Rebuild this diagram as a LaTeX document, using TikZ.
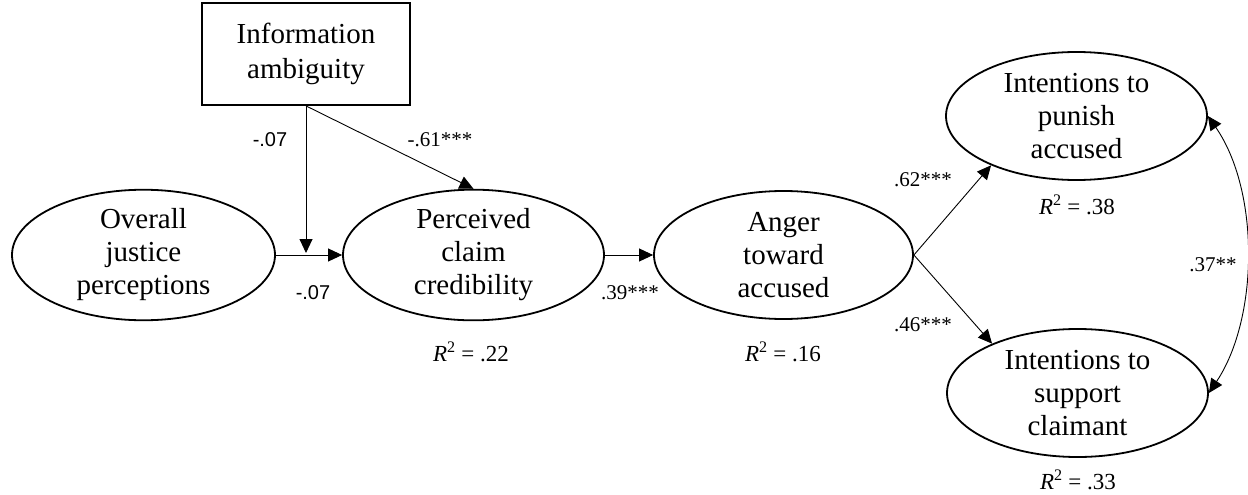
\documentclass[tikz,border=0pt]{standalone}
\usepackage{fontspec}
\setmainfont{Liberation Serif}
\newfontfamily\arialf{Liberation Sans}
\usetikzlibrary{shapes.geometric,arrows.meta}
\tikzset{
  latent/.style={ellipse, draw, line width=1.8pt, minimum width=261pt, minimum height=128pt,
    inner sep=0pt, align=center, font=\fontsize{29}{33}\selectfont},
  observed/.style={rectangle, draw, line width=1.8pt, minimum width=208pt, minimum height=102pt,
    inner sep=0pt, align=center, font=\fontsize{29}{35}\selectfont},
  path/.style={line width=0.9pt, -{Triangle[length=14pt,width=13pt]}},
  covpath/.style={line width=0.9pt, {Triangle[length=14pt,width=13pt]}-{Triangle[length=14pt,width=13pt]}},
  coef/.style={inner sep=0pt, font=\fontsize{21}{24}\selectfont},
  coefsans/.style={inner sep=0pt, font=\arialf\fontsize{20}{24}\selectfont},
  rsq/.style={inner sep=0pt, font=\fontsize{23}{26}\selectfont},
}
\begin{document}
\begin{tikzpicture}[x=1pt,y=-1pt]
\useasboundingbox (0,0) rectangle (1248,495);

% constructs
\node[observed] (amb) at (306,54) {Information\\ambiguity};
\node[latent, minimum width=263pt, minimum height=129pt] (just) at (143.5,255) {Overall\\justice\\perceptions};
\node[latent, minimum height=129pt] (cred) at (473.5,255) {Perceived\\claim\\credibility};
\node[latent, minimum width=259pt] (anger) at (783.5,255) {Anger\\toward\\accused};
\node[latent] (pun) at (1076.5,116) {Intentions to\\punish\\accused};
\node[latent] (sup) at (1077.5,393) {Intentions to\\support\\claimant};

% moderation point on the justice -> credibility path
\coordinate (mod) at (306,253);

% paths
\draw[path] (amb.south) -- (mod);
\draw[path] (amb.south) -- (cred.north);
\draw[path] (just.east) -- (cred.west);
\draw[path] (cred.east) -- (anger.west);
\draw[path] (anger.east) -- (pun.210);
\draw[path] (anger.east) -- (sup.150);
\draw[covpath] (pun.east) .. controls +(52,75) and +(50,-75) .. (sup.east);

% coefficients
\node[coefsans] (c1) at (270,140) {-.07};
\node[coef] (c2) at (440,140) {-.61***};
\node[coefsans] (c3) at (313,293) {-.07};
\node[coef] (c4) at (630,293) {.39***};
\node[coef] (c5) at (923,180) {.62***};
\node[coef] (c6) at (923,325) {.46***};
\node[coef] (c7) at (1213,265) {.37**};

% explained variance
\node[rsq] (r1) at (471,352) {\textit{R}\textsuperscript{2} = .22};
\node[rsq] (r2) at (783,352) {\textit{R}\textsuperscript{2} = .16};
\node[rsq] (r3) at (1077,205) {\textit{R}\textsuperscript{2} = .38};
\node[rsq] (r4) at (1078,480) {\textit{R}\textsuperscript{2} = .33};
\end{tikzpicture}
\end{document}
